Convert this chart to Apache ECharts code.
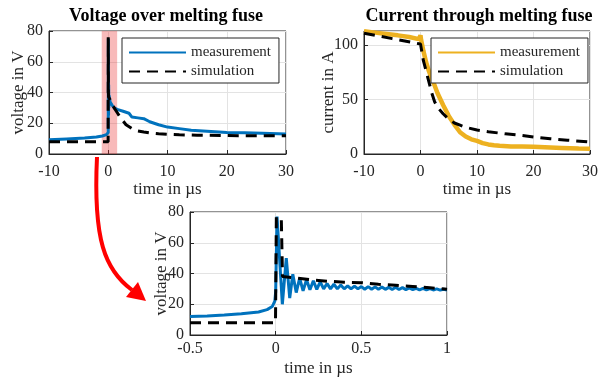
<!DOCTYPE html>
<html>
<head>
<meta charset="utf-8">
<title>Melting fuse</title>
<script src="https://cdn.jsdelivr.net/npm/echarts@6/dist/echarts.min.js"></script>
<style>
  html, body { margin: 0; padding: 0; background: #fff; }
  #chart { width: 601px; height: 378px; }
</style>
</head>
<body>
<div id="chart"></div>
<script>
// ---------------- data ----------------
// top left: voltage over the fuse, time in us
var voltMeasT = [-10, -7, -4, -2, -1, -0.3, 0, 0.02, 0.05, 0.07, 0.1, 0.15, 0.3, 0.6, 1, 1.5, 2.5, 3.5, 4, 5, 6, 7, 8.5, 10, 12, 14, 16, 18, 20, 23, 26, 30];
var voltMeasV = [9.2, 9.8, 10.4, 11, 11.7, 12.6, 14, 75, 25, 45, 30, 38, 34, 32, 30, 29, 27.8, 26.5, 24, 23.5, 23, 21, 19, 17.5, 16.5, 15.5, 15, 14.5, 14, 13.8, 13.5, 13];
var voltSimT = [-10, -0.02, 0, 0.02, 0.03, 0.05, 0.5, 1, 1.5, 2, 2.5, 3, 4, 5, 6, 7, 8.5, 10, 12, 15, 20, 25, 30];
var voltSimV = [8, 8, 76, 75, 40, 37, 34, 30, 27, 24, 21.5, 19, 16.5, 15, 14.3, 13.7, 13.2, 12.8, 12.5, 12.2, 12, 11.8, 11.8];

// top right: current through the fuse
var currMeasT = [-10, -8, -6, -4, -2, -0.3, 0, 0.1, 0.5, 1, 1.5, 2, 2.5, 3, 4, 5, 6, 7, 8, 9, 10, 11, 12, 13, 14, 16, 18, 20, 22, 25, 28, 30];
var currMeasV = [112.7, 111.5, 110.3, 109, 107.5, 105.5, 109, 105, 95, 84, 76, 69, 63, 56, 45, 35, 27, 20, 16, 13.5, 12, 10, 8.8, 8, 7.5, 7, 6.8, 6.6, 6.2, 5.6, 5, 4.8];
var currSimT = [-10, -5, 0, 0.5, 1, 1.5, 2, 2.5, 3, 4, 5, 6, 7, 8, 10, 12, 15, 18, 20, 23, 26, 30];
var currSimV = [111, 106, 101, 86, 76, 66, 56, 48, 43, 37, 32, 28.5, 26.5, 24.5, 22, 20.5, 18.5, 17, 15.7, 14, 12.7, 11];

// bottom: zoom into the voltage spike
var zoomMeasT = [-0.5, -0.4, -0.3, -0.2, -0.1, -0.05, -0.02, -0.005, 0, 0.008, 0.039, 0.062, 0.082, 0.1, 0.12, 0.14, 0.16, 0.18, 0.2,
  0.22, 0.24, 0.26, 0.28, 0.3, 0.32, 0.34, 0.36, 0.38, 0.4, 0.42, 0.44, 0.46, 0.48, 0.5, 0.52, 0.54, 0.56, 0.58, 0.6,
  0.62, 0.64, 0.66, 0.68, 0.7, 0.72, 0.74, 0.76, 0.78, 0.8, 0.82, 0.84, 0.86, 0.88, 0.9, 0.92, 0.94, 0.96, 0.98, 1];
var zoomMeasV = [12, 12.4, 13, 13.8, 15, 16.5, 18.5, 22, 28, 77, 20, 50, 24, 39.5, 27.6, 37, 28.7, 36, 29.4,
  35.3, 29.6, 34.5, 30, 33.5, 30, 33, 30, 32.5, 30, 32, 30, 31.8, 30, 31.5, 29.8, 31.5, 29.8, 31.3, 29.8,
  31.2, 29.7, 31, 29.6, 31, 29.6, 30.8, 29.5, 30.6, 29.5, 30.4, 29.4, 30.3, 29.3, 30.2, 29.3, 30, 29.2, 29.8, 29.3];
var zoomSimT = [-0.5, -0.001, 0.004, 0.033, 0.04, 0.1, 0.2, 0.3, 0.4, 0.5, 0.6, 0.7, 0.8, 0.9, 1];
var zoomSimV = [8, 8, 77, 75, 38, 37.3, 36, 35, 34.3, 34, 33, 32.3, 31.5, 30.7, 29.8];

// highlighted window in the top-left plot (us)
var bandRange = [-1.1, 1.5];

(function () {
  "use strict";

  var SERIF = "Liberation Serif";
  var INK = "#262626";
  var BLUE = "#0072BD";
  var GOLD = "#EDB120";
  var GRID_LINE = "#e3e3e3";

  function pairs(xs, ys) {
    return xs.map(function (x, i) { return [x, ys[i]]; });
  }

  function xAxisFor(grid, min, max, step, labelGap) {
    return {
      type: "value", gridIndex: grid, min: min, max: max, interval: step,
      name: "time in µs", nameLocation: "middle", nameGap: 25,
      nameTextStyle: { fontFamily: SERIF, fontSize: 17, color: INK },
      axisLine: { show: true, onZero: false, lineStyle: { color: INK, width: 1 } },
      axisTick: { show: true, inside: true, length: 4, lineStyle: { color: INK } },
      axisLabel: { margin: labelGap, fontFamily: SERIF, fontSize: 16, color: INK },
      splitLine: { show: true, lineStyle: { color: GRID_LINE, width: 1 } },
    };
  }

  function yAxisFor(grid, max, step, name, gap) {
    return {
      type: "value", gridIndex: grid, min: 0, max: max, interval: step,
      name: name, nameLocation: "middle", nameGap: gap, nameMoveOverlap: false,
      nameTextStyle: { fontFamily: SERIF, fontSize: 17, color: INK },
      axisLine: { show: true, onZero: false, lineStyle: { color: INK, width: 1 } },
      axisTick: { show: true, inside: true, length: 4, lineStyle: { color: INK } },
      axisLabel: {
        margin: 6, fontFamily: SERIF, fontSize: 16, color: INK,
        formatter: function (v) { return v % step === 0 ? String(v) : ""; },
      },
      splitLine: { show: true, lineStyle: { color: GRID_LINE, width: 1 } },
    };
  }

  function line(name, idx, data, color, width, dashed, z) {
    return {
      name: name, type: "line", xAxisIndex: idx, yAxisIndex: idx,
      data: data, symbol: "none", showSymbol: false, z: z,
      lineStyle: { color: color, width: width, type: dashed ? [11, 7] : "solid", cap: "butt" },
      itemStyle: { color: color },
    };
  }

  function legendAt(left, names) {
    return {
      left: left, top: 38, orient: "vertical",
      data: names, itemWidth: 57, itemHeight: 14, itemGap: 4,
      padding: [7, 8, 4, 6],
      backgroundColor: "#fff", borderColor: INK, borderWidth: 1,
      selectedMode: false,
      // hide the marker the line icon carries, keep only the stroke
      itemStyle: { opacity: 0 },
      textStyle: { fontFamily: SERIF, fontSize: 15, color: INK },
      formatter: function (n) { return n.split("|")[0]; },
    };
  }

  var titleStyle = { fontFamily: SERIF, fontWeight: "bold", fontSize: 18, color: "#000" };

  var chart = echarts.init(document.getElementById("chart"), null, { renderer: "canvas" });
  chart.setOption({
    animation: false,
    backgroundColor: "#fff",
    title: [
      { text: "Voltage over melting fuse", left: 166, top: 7, padding: 0, textAlign: "center", textStyle: titleStyle },
      { text: "Current through melting fuse", left: 479, top: 7, padding: 0, textAlign: "center", textStyle: titleStyle },
    ],
    grid: [
      { left: 49, top: 31, width: 237, height: 123, show: true, borderColor: INK, borderWidth: 1 },
      { left: 364, top: 31, width: 231, height: 123, show: true, borderColor: INK, borderWidth: 1 },
      { left: 190, top: 212, width: 257, height: 124, show: true, borderColor: INK, borderWidth: 1 },
    ],
    xAxis: [
      xAxisFor(0, -10, 30, 10, 10),
      xAxisFor(1, -10, 30, 10, 10),
      xAxisFor(2, -0.5, 1, 0.5, 6),
    ],
    yAxis: [
      yAxisFor(0, 80, 20, "voltage in V", 22),
      yAxisFor(1, 113, 50, "current in A", 27),
      yAxisFor(2, 80, 20, "voltage in V", 20),
    ],
    legend: [
      legendAt(122, ["measurement|U", "simulation|U"]),
      legendAt(431, ["measurement|I", "simulation|I"]),
    ],
    series: [
      line("measurement|U", 0, pairs(voltMeasT, voltMeasV), BLUE, 3, false, 2),
      line("simulation|U", 0, pairs(voltSimT, voltSimV), "#000", 3, true, 3),
      {
        name: "band", type: "line", xAxisIndex: 0, yAxisIndex: 0, data: [], z: 5,
        markArea: {
          silent: true,
          itemStyle: { color: "rgba(232,40,40,0.32)" },
          data: [[{ xAxis: bandRange[0] }, { xAxis: bandRange[1] }]],
        },
      },
      line("measurement|I", 1, pairs(currMeasT, currMeasV), GOLD, 4.5, false, 2),
      line("simulation|I", 1, pairs(currSimT, currSimV), "#000", 3, true, 3),
      line("measurement|Z", 2, pairs(zoomMeasT, zoomMeasV), BLUE, 3, false, 2),
      line("simulation|Z", 2, pairs(zoomSimT, zoomSimV), "#000", 3, true, 3),
    ],
    // red arrow from the highlighted window down to the zoomed plot
    graphic: [
      {
        type: "bezierCurve", silent: true, z: 50,
        shape: { x1: 97, y1: 157, cpx1: 93, cpy1: 240, cpx2: 105, cpy2: 270, x2: 132, y2: 290 },
        style: { stroke: "#ff0000", lineWidth: 4, fill: null },
      },
      {
        type: "polygon", silent: true, z: 50,
        shape: { points: [[146, 301], [126, 297], [138, 282]] },
        style: { fill: "#ff0000" },
      },
    ],
  });
})();
</script>
</body>
</html>
